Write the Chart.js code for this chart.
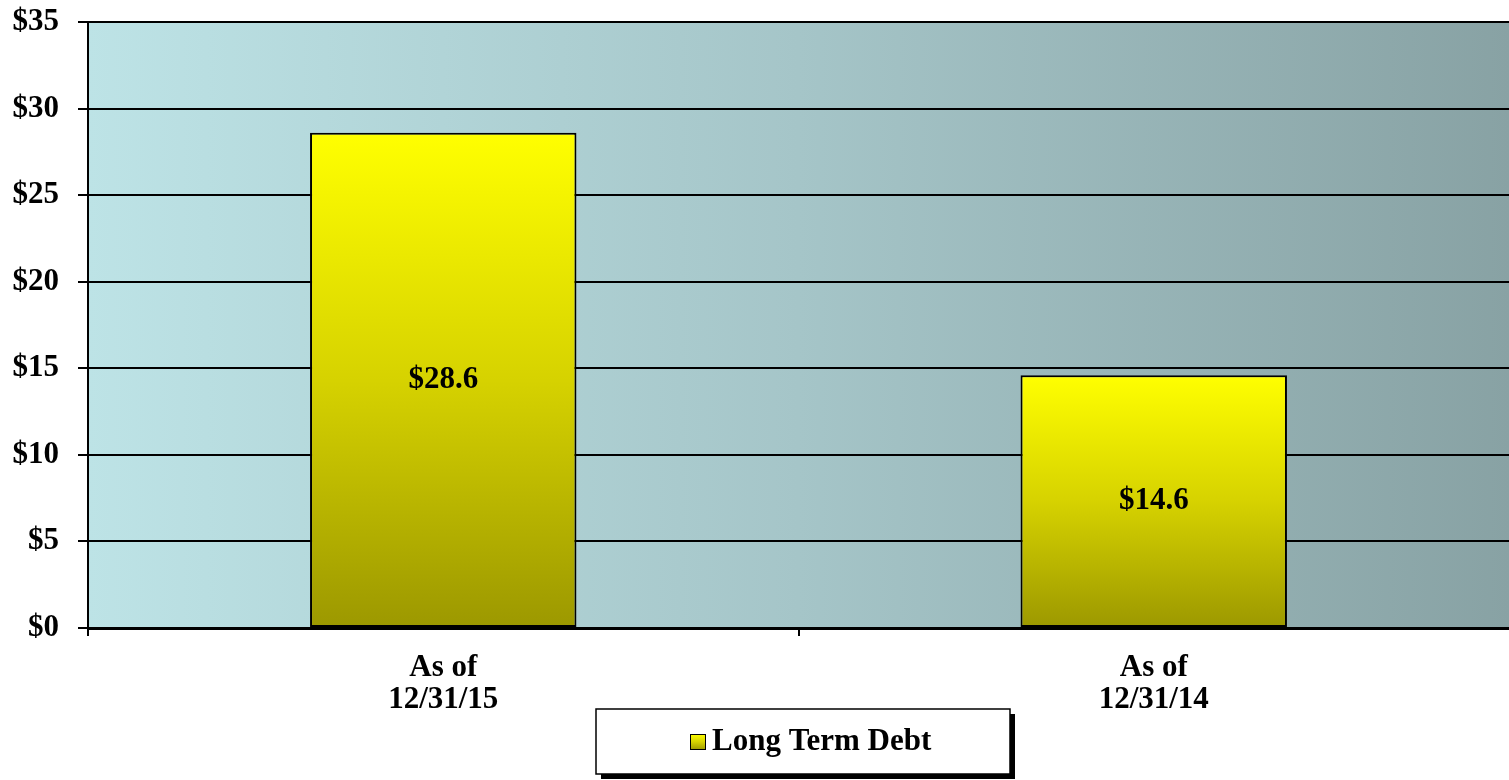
<!DOCTYPE html>
<html>
<head>
<meta charset="utf-8">
<script src="https://cdn.jsdelivr.net/npm/chart.js@4.4.1/dist/chart.umd.min.js"></script>
<style>
    html, body { margin: 0; padding: 0; background: #ffffff; }
    #wrap { width: 1509px; height: 780px; position: relative; }
</style>
</head>
<body>
<div id="wrap"><canvas id="debt-chart"></canvas></div>
<script>
// data
const categories = [['As of', '12/31/15'], ['As of', '12/31/14']];
const debtValues = [28.6, 14.6];
const seriesLabel = 'Long Term Debt';
const yMin = 0;
const yMax = 35;
const yStep = 5;

const FONT = '"Liberation Serif", "Times New Roman", serif';
const FONT_SIZE = 31;

Chart.defaults.font.family = FONT;
Chart.defaults.font.weight = 'bold';
Chart.defaults.font.size = FONT_SIZE;
Chart.defaults.color = '#000000';

function barGradient(ctx, top, bottom) {
    const g = ctx.createLinearGradient(0, top, 0, bottom);
    g.addColorStop(0, '#ffff00');
    g.addColorStop(0.5, '#d6d200');
    g.addColorStop(1, '#9c9800');
    return g;
}

// horizontal cyan -> slate gradient behind the plot
const plotBackground = {
    id: 'plotBackground',
    beforeDraw(chart) {
        const { ctx, chartArea: a } = chart;
        const g = ctx.createLinearGradient(a.left, 0, a.right, 0);
        g.addColorStop(0, '#bde3e6');
        g.addColorStop(0.5, '#a5c5c8');
        g.addColorStop(1, '#88a2a4');
        ctx.save();
        ctx.fillStyle = g;
        ctx.fillRect(a.left, a.top, a.right - a.left, a.bottom - a.top);
        ctx.restore();
    }
};

// value labels in the middle of each bar
const barLabels = {
    id: 'barLabels',
    afterDatasetsDraw(chart) {
        const ctx = chart.ctx;
        const meta = chart.getDatasetMeta(0);
        ctx.save();
        ctx.font = 'bold ' + FONT_SIZE + 'px ' + FONT;
        ctx.fillStyle = '#000';
        ctx.textAlign = 'center';
        ctx.textBaseline = 'middle';
        meta.data.forEach((bar, i) => {
            const v = chart.data.datasets[0].data[i];
            ctx.fillText('$' + v.toFixed(1), bar.x, (bar.y + bar.base) / 2);
        });
        ctx.restore();
    }
};

// boxed legend with drop shadow, under the axis
const boxedLegend = {
    id: 'boxedLegend',
    afterDraw(chart) {
        const ctx = chart.ctx;
        const left = 596, top = 709, w = 414, h = 65;
        ctx.save();
        ctx.fillStyle = '#000';
        ctx.fillRect(left + 5, top + 5, w, h);
        ctx.fillStyle = '#fff';
        ctx.fillRect(left, top, w, h);
        ctx.lineWidth = 1.5;
        ctx.strokeStyle = '#000';
        ctx.strokeRect(left, top, w, h);

        const mx = 690, my = 734, ms = 16;
        ctx.fillStyle = barGradient(ctx, my, my + ms);
        ctx.fillRect(mx, my, ms, ms);
        ctx.lineWidth = 1;
        ctx.strokeRect(mx + 0.5, my + 0.5, ms - 1, ms - 1);

        ctx.font = 'bold ' + FONT_SIZE + 'px ' + FONT;
        ctx.fillStyle = '#000';
        ctx.textAlign = 'left';
        ctx.textBaseline = 'middle';
        ctx.fillText(chart.data.datasets[0].label, mx + ms + 6, my + ms / 2);
        ctx.restore();
    }
};

new Chart(document.getElementById('debt-chart'), {
    type: 'bar',
    data: {
        labels: categories,
        datasets: [{
            label: seriesLabel,
            data: debtValues,
            borderColor: '#000000',
            borderWidth: 2,
            borderSkipped: false,
            categoryPercentage: 0.75,
            barPercentage: 0.5,
            backgroundColor(context) {
                const chart = context.chart;
                if (!chart.chartArea || context.type !== 'data') return '#e0dc00';
                const y = chart.scales.y;
                return barGradient(chart.ctx,
                    y.getPixelForValue(context.parsed.y),
                    y.getPixelForValue(0));
            }
        }]
    },
    options: {
        responsive: true,
        maintainAspectRatio: false,
        animation: false,
        layout: { padding: { top: 22, right: 0, bottom: 0, left: 0 } },
        plugins: {
            legend: { display: false },
            tooltip: { enabled: false }
        },
        scales: {
            x: {
                grid: {
                    offset: true,
                    drawOnChartArea: false,
                    // the closing tick at the right edge is not shown
                    color: ctx => ctx.type === 'tick' ? '#000' : 'rgba(0,0,0,0)',
                    lineWidth: 2,
                    tickLength: 8
                },
                border: { color: '#000', width: 3 },
                ticks: { padding: 16, maxRotation: 0, font: { lineHeight: 1.03 } },
                afterFit(scale) { scale.height = 152; }
            },
            y: {
                min: yMin,
                max: yMax,
                grid: {
                    color: '#000',
                    lineWidth: 2,
                    tickLength: 10
                },
                border: { color: '#000', width: 2 },
                ticks: {
                    stepSize: yStep,
                    padding: 19,
                    callback: v => '$' + v
                },
                afterFit(scale) {
                    scale.width = 88;
                    scale.paddingTop = 0;
                    scale.paddingBottom = 0;
                }
            }
        }
    },
    plugins: [plotBackground, barLabels, boxedLegend]
});
</script>
</body>
</html>
